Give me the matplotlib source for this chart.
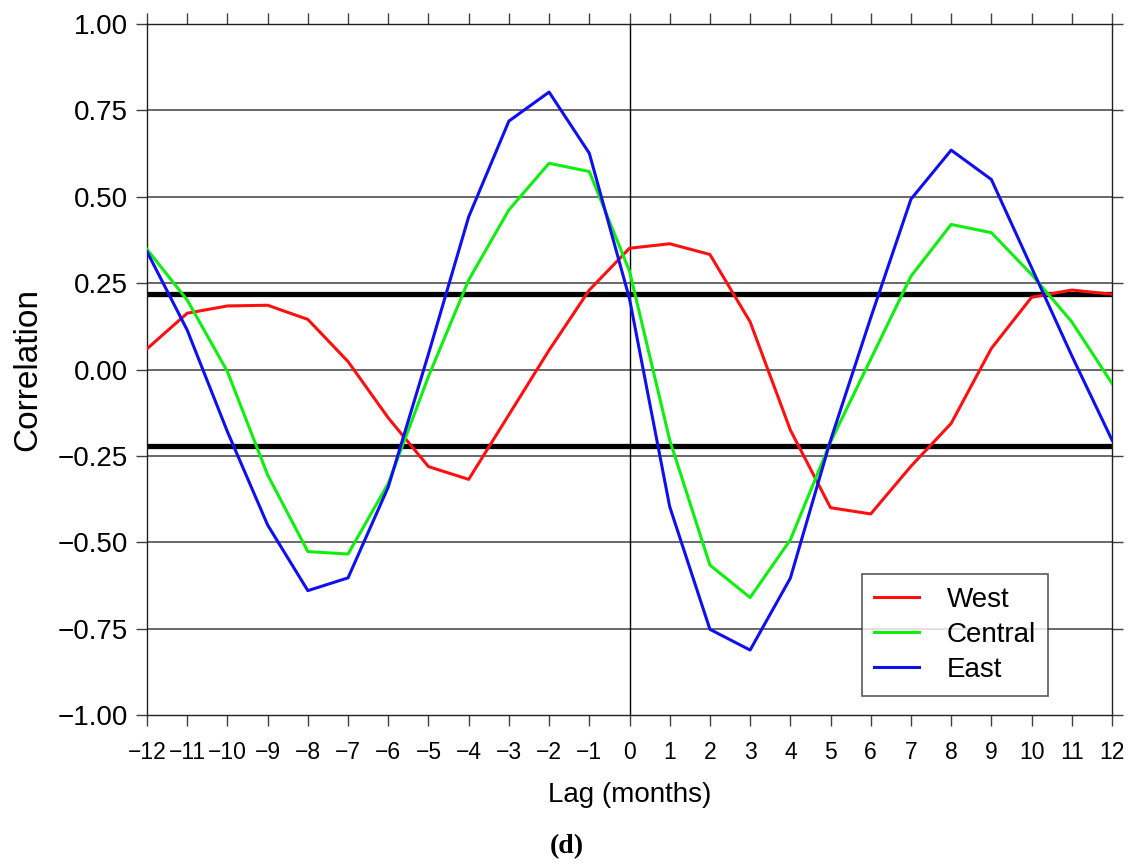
import matplotlib
matplotlib.use("Agg")
from matplotlib import pyplot as plt

plt.rcParams['font.family'] = ['Liberation Sans', 'DejaVu Sans']

lags = list(range(-12, 13))
west = [0.06, 0.163, 0.184, 0.186, 0.145, 0.023, -0.14, -0.281, -0.318, -0.131, 0.056, 0.23,
        0.351, 0.364, 0.333, 0.138, -0.175, -0.40, -0.418, -0.28, -0.156, 0.061, 0.209, 0.230, 0.218]
central = [0.348, 0.201, -0.006, -0.305, -0.527, -0.534, -0.33, -0.02, 0.259, 0.462, 0.597, 0.573,
           0.285, -0.204, -0.566, -0.660, -0.493, -0.21, 0.03, 0.27, 0.42, 0.396, 0.275, 0.138, -0.040]
east = [0.341, 0.114, -0.18, -0.45, -0.640, -0.603, -0.34, 0.045, 0.442, 0.719, 0.803, 0.626,
        0.205, -0.397, -0.752, -0.812, -0.604, -0.205, 0.15, 0.493, 0.635, 0.55, 0.295, 0.04, -0.204]
signif = 0.22
y_ticks = [-1.0, -0.75, -0.5, -0.25, 0.0, 0.25, 0.5, 0.75, 1.0]

fig = plt.figure(figsize=(11.37, 8.67), dpi=100)
ax = fig.add_axes([0.1293, 0.1753, 0.8487, 0.797])

# grid at the tick values, plus zero lag line and significance levels
for y in y_ticks[1:-1]:
    ax.axhline(y, color='#404040', lw=1.1, zorder=1)
ax.axvline(0, color='black', lw=1.0, zorder=1)
ax.axhline(signif, color='black', lw=3.8, zorder=2)
ax.axhline(-signif, color='black', lw=3.8, zorder=2)

ax.plot(lags, west, color='#ff1010', lw=2.2, label='West', zorder=3)
ax.plot(lags, central, color='#10ee10', lw=2.2, label='Central', zorder=3)
ax.plot(lags, east, color='#1010ee', lw=2.2, label='East', zorder=3)

ax.set_xlim(-12, 12)
ax.set_ylim(-1, 1)
ax.set_xticks(lags)
ax.set_xticklabels([str(v).replace('-', '\u2212') for v in lags])
ax.set_yticks(y_ticks)
ax.set_yticklabels(['%.2f' % v if v >= 0 else '\u2212%.2f' % -v for v in y_ticks])
ax.tick_params(axis='both', direction='out', length=8, width=1.0, color='#404040',
               top=True, right=True)
ax.tick_params(axis='x', pad=11, labelsize=16.5)
ax.tick_params(axis='y', pad=6, labelsize=20)
for s in ax.spines.values():
    s.set_color('#202020')
    s.set_linewidth(1.0)

ax.set_xlabel('Lag (months)', fontsize=20, labelpad=13)
ax.set_ylabel('Correlation', fontsize=24, labelpad=10)

leg = ax.legend(loc='lower left', bbox_to_anchor=(0.7406, 0.028), borderaxespad=0,
                fontsize=20, frameon=True, fancybox=False, handlelength=1.6,
                handletextpad=1.0, labelspacing=0.33, borderpad=0.45)
leg.get_frame().set_edgecolor('#303030')
leg.get_frame().set_linewidth(1.2)
leg.set_zorder(5)

fig.text(0.4987, 0.023, '(d)', ha='center', va='center', fontsize=20,
         family=['Liberation Serif', 'DejaVu Serif'], fontweight='bold')

fig.savefig('out.png', dpi=100, facecolor='white')
